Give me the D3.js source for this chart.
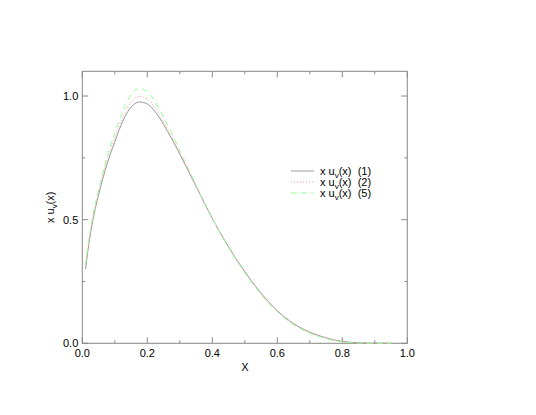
<!DOCTYPE html><html><head><meta charset="utf-8"><script src="https://cdn.jsdelivr.net/npm/d3@7"></script>
<style>body{margin:0;background:#fff}text{font-family:"Liberation Sans",Arial,sans-serif;font-size:11px;fill:#000;white-space:pre}</style></head><body><svg width="536" height="415"></svg><script>
const xs=[0.01,0.02,0.03,0.05,0.075,0.1,0.125,0.15,0.175,0.2,0.225,0.25,0.3,0.35,0.4,0.45,0.5,0.55,0.6,0.65,0.7,0.75,0.8,0.85,0.9,0.95];
const s1=[0.30,0.40,0.48,0.60,0.72,0.815,0.90,0.955,0.976,0.968,0.935,0.885,0.765,0.635,0.505,0.39,0.29,0.203,0.132,0.08,0.045,0.022,0.008,0.002,0.0003,0];
const s2=[0.31,0.41,0.49,0.61,0.735,0.83,0.915,0.975,0.998,0.988,0.95,0.895,0.77,0.637,0.505,0.389,0.288,0.201,0.13,0.078,0.043,0.021,0.007,0.0015,0.0002,0];
const s5=[0.32,0.42,0.50,0.62,0.75,0.85,0.94,1.005,1.03,1.018,0.975,0.915,0.78,0.64,0.505,0.387,0.285,0.198,0.127,0.075,0.041,0.019,0.006,0.001,0.0001,0];
const labs=["(1)","(2)","(5)"];
const colors=["#999999","#ff9999","#99ff99"];
const dashes=[null,"1,2","6,4"];
const xTicks=[0,0.2,0.4,0.6,0.8,1.0], yTicks=[0,0.5,1.0];
const svg=d3.select("svg");
const L=82.3,R=407.3,T=71.3,B=343.3;
const x=d3.scaleLinear().domain([0,1]).range([L,R]);
const y=d3.scaleLinear().domain([0,1.1]).range([B,T]);
const g=svg.append("g");
g.append("rect").attr("x",L).attr("y",T).attr("width",R-L).attr("height",B-T).attr("fill","none").attr("stroke","#888");
d3.range(0,1.0001,0.1).forEach((v,i)=>{const l=i%2==0?6:3;
 g.append("line").attr("x1",x(v)).attr("x2",x(v)).attr("y1",B).attr("y2",B-l).attr("stroke","#888");
 g.append("line").attr("x1",x(v)).attr("x2",x(v)).attr("y1",T).attr("y2",T+l).attr("stroke","#888");});
[0,0.25,0.5,0.75,1.0].forEach((v,i)=>{const l=i%2==0?6:3;
 g.append("line").attr("y1",y(v)).attr("y2",y(v)).attr("x1",L).attr("x2",L+l).attr("stroke","#888");
 g.append("line").attr("y1",y(v)).attr("y2",y(v)).attr("x1",R).attr("x2",R-l).attr("stroke","#888");});
xTicks.forEach(v=>g.append("text").attr("x",x(v)).attr("y",B+14).attr("text-anchor","middle").text(v.toFixed(1)));
yTicks.forEach(v=>g.append("text").attr("x",L-4).attr("y",y(v)+4).attr("text-anchor","end").text(v.toFixed(1)));
g.append("text").attr("x",(L+R)/2).attr("y",B+28).attr("text-anchor","middle").attr("font-size","12px").text("X");
const yl=g.append("text").attr("transform",`translate(${L-28},${(T+B)/2}) rotate(-90)`).attr("text-anchor","middle");
yl.append("tspan").text("x u");yl.append("tspan").attr("font-size","8px").attr("dy",3).text("v");yl.append("tspan").attr("dy",-3).text("(x)");
const line=d3.line().curve(d3.curveMonotoneX).x(d=>x(d[0])).y(d=>y(d[1]));
[s1,s2,s5].forEach((s,i)=>g.append("path").attr("d",line(xs.map((v,j)=>[v,s[j]]))).attr("fill","none").attr("stroke",colors[i]).attr("stroke-width",1).attr("stroke-dasharray",dashes[i]));
labs.forEach((lb,i)=>{const yy=171+i*11;
 g.append("line").attr("x1",291).attr("x2",314).attr("y1",yy).attr("y2",yy).attr("stroke",colors[i]).attr("stroke-dasharray",dashes[i]);
 const t=g.append("text").attr("x",320).attr("y",yy+4);
 t.append("tspan").text("x u");t.append("tspan").attr("font-size","8px").attr("dy",3).text("v");t.append("tspan").attr("dy",-3).text("(x)  "+lb);});
</script></body></html>
